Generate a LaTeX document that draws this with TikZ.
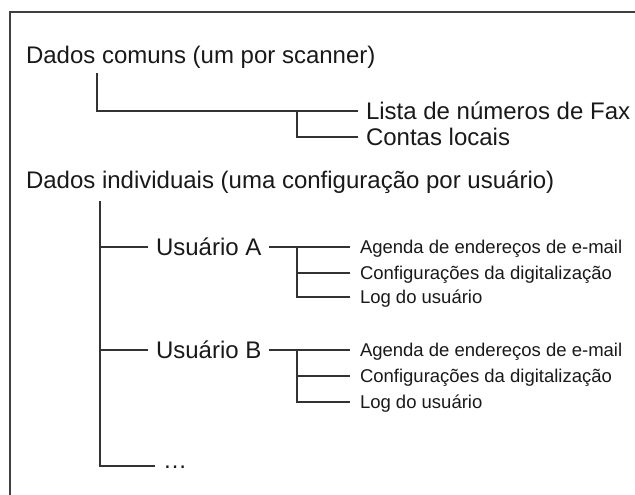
\documentclass[tikz,border=0pt]{standalone}
\usepackage{fontspec}
\setmainfont{Liberation Sans}

\begin{document}
\begin{tikzpicture}[x=1pt, y=-1pt,
  big/.style={inner sep=0pt, outer xsep=8pt, anchor=west, text height=17.2pt, text depth=0pt, text=black!90, font=\fontsize{24}{28}\selectfont},
  small/.style={big, outer xsep=10pt, text height=13.3pt, font=\fontsize{18.5}{22}\selectfont},
  ln/.style={line width=1.2pt, draw=black!80},
  frame/.style={line width=1.2pt, draw=black!75}]
\useasboundingbox (0,0) rectangle (635,495);
\draw[frame] (10,495) -- (10,12) -- (635,12);

\node[big] (comum) at (18,55) {Dados comuns (um por scanner)};
\node[big] (fax) at (358,111) {Lista de números de Fax};
\node[big] (contas) at (358,137) {Contas locais};

\node[big] (indiv) at (18,180) {Dados individuais (uma configuração por usuário)};
\node[big] (usrA) at (148,247) {Usuário A};
\node[big] (usrB) at (148,350) {Usuário B};
\node[big, text height=4pt] (dots) at (155,466) {…};

\node[small] (agA) at (350,247) {Agenda de endereços de e-mail};
\node[small] (cfgA) at (350,273) {Configurações da digitalização};
\node[small] (logA) at (350,297) {Log do usuário};

\node[small] (agB) at (350,350) {Agenda de endereços de e-mail};
\node[small] (cfgB) at (350,376) {Configurações da digitalização};
\node[small] (logB) at (350,402) {Log do usuário};

\coordinate (c1) at (97,73);
\coordinate (c2) at (297,111);
\coordinate (t) at (100,201);
\coordinate (jA) at (297,247);
\coordinate (jB) at (297,350);

\draw[ln] (c1) |- (fax.west);
\draw[ln] (c2) |- (contas.west);

\draw[ln] (t) |- (dots.west);
\draw[ln] (t |- usrA.west) -- (usrA.west);
\draw[ln] (t |- usrB.west) -- (usrB.west);

\draw[ln] (usrA.east) -- (agA.west);
\draw[ln] (jA) |- (cfgA.west);
\draw[ln] (jA) |- (logA.west);

\draw[ln] (usrB.east) -- (agB.west);
\draw[ln] (jB) |- (cfgB.west);
\draw[ln] (jB) |- (logB.west);
\end{tikzpicture}
\end{document}
